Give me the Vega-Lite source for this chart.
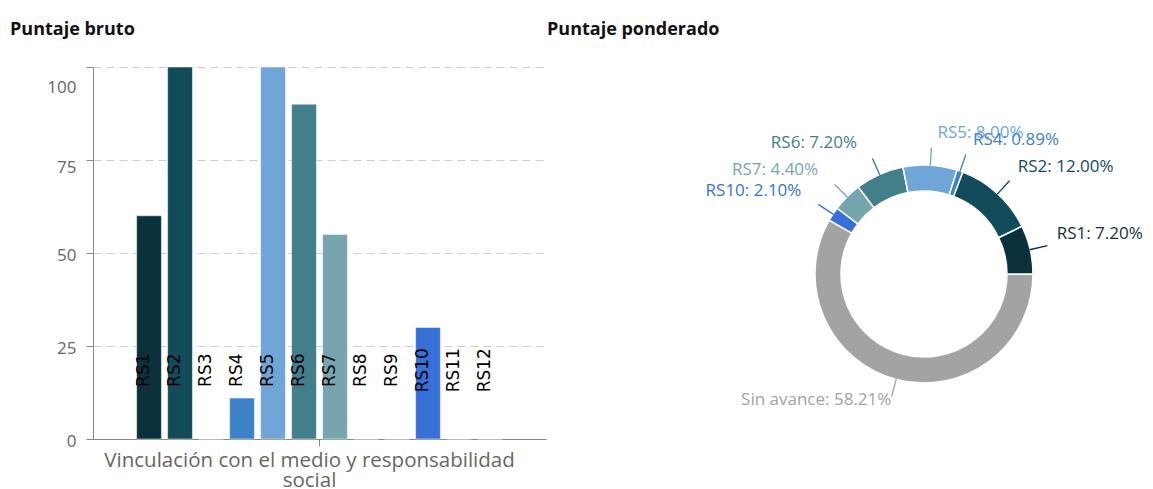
{
  "$schema": "https://vega.github.io/schema/vega-lite/v6.json",
  "padding": {"left": 10, "top": 20, "right": 0, "bottom": 0},
  "background": "white",
  "bounds": "flush",
  "spacing": 178,
  "config": {"view": {"stroke": null}, "font": "Open Sans"},
  "datasets": {
    "bruto": [
      {"criterio": "Vinculación con el medio y responsabilidad social", "rs": "RS1", "puntaje": 60},
      {"criterio": "Vinculación con el medio y responsabilidad social", "rs": "RS2", "puntaje": 100},
      {"criterio": "Vinculación con el medio y responsabilidad social", "rs": "RS3", "puntaje": 0},
      {"criterio": "Vinculación con el medio y responsabilidad social", "rs": "RS4", "puntaje": 11},
      {"criterio": "Vinculación con el medio y responsabilidad social", "rs": "RS5", "puntaje": 100},
      {"criterio": "Vinculación con el medio y responsabilidad social", "rs": "RS6", "puntaje": 90},
      {"criterio": "Vinculación con el medio y responsabilidad social", "rs": "RS7", "puntaje": 55},
      {"criterio": "Vinculación con el medio y responsabilidad social", "rs": "RS8", "puntaje": 0},
      {"criterio": "Vinculación con el medio y responsabilidad social", "rs": "RS9", "puntaje": 0},
      {"criterio": "Vinculación con el medio y responsabilidad social", "rs": "RS10", "puntaje": 30},
      {"criterio": "Vinculación con el medio y responsabilidad social", "rs": "RS11", "puntaje": 0},
      {"criterio": "Vinculación con el medio y responsabilidad social", "rs": "RS12", "puntaje": 0}
    ],
    "ponderado": [
      {"rs": "Sin avance", "pct": 58.21, "orden": 1},
      {"rs": "RS10", "pct": 2.10, "orden": 2},
      {"rs": "RS7", "pct": 4.40, "orden": 3},
      {"rs": "RS6", "pct": 7.20, "orden": 4},
      {"rs": "RS5", "pct": 8.00, "orden": 5},
      {"rs": "RS4", "pct": 0.89, "orden": 6},
      {"rs": "RS2", "pct": 12.00, "orden": 7},
      {"rs": "RS1", "pct": 7.20, "orden": 8}
    ]
  },
  "hconcat": [
    {
      "width": 453,
      "height": 372,
      "title": {"text": "Puntaje bruto", "anchor": "start", "frame": "group", "dx": -83, "offset": 28, "fontSize": 18, "fontWeight": "bold", "color": "#111111", "font": "Open Sans"},
      "data": {"name": "bruto"},
      "encoding": {
        "x": {
          "field": "criterio", "type": "nominal",
          "scale": {"paddingInner": 0, "paddingOuter": 0.109},
          "axis": {
            "title": null, "labelAngle": 0,
            "labelExpr": "[slice(datum.label, 0, 42), slice(datum.label, 43)]",
            "labelFontSize": 20.5, "labelColor": "#666666", "labelLimit": 700,
            "labelLineHeight": 20, "labelPadding": 4, "labelOffset": -10,
            "domainColor": "#888888", "tickColor": "#888888", "tickSize": 7, "grid": false
          }
        },
        "xOffset": {
          "field": "rs", "type": "nominal",
          "scale": {"domain": ["RS1","RS2","RS3","RS4","RS5","RS6","RS7","RS8","RS9","RS10","RS11","RS12"], "paddingInner": 0.2, "paddingOuter": 0.1}
        }
      },
      "layer": [
        {
          "mark": {"type": "bar", "stroke": "white", "strokeWidth": 0.5},
          "encoding": {
            "y": {
              "field": "puntaje", "type": "quantitative",
              "scale": {"domain": [0, 100]},
              "axis": {
                "title": null, "values": [0, 25, 50, 75, 100],
                "grid": true, "gridDash": [8, 5], "gridColor": "#cccccc",
                "domainColor": "#888888", "tickColor": "#888888", "tickSize": 7,
                "labelPadding": 10, "labelFontSize": 17, "labelColor": "#666666",
                "labelOffset": {"condition": [{"test": "datum.value == 100", "value": 20}, {"test": "datum.value == 75", "value": 7}], "value": 2}
              }
            },
            "color": {
              "field": "rs", "type": "nominal", "legend": null,
              "scale": {
                "domain": ["RS1","RS2","RS3","RS4","RS5","RS6","RS7","RS8","RS9","RS10","RS11","RS12","Sin avance"],
                "range": ["#0b323c","#124b5a","#5a8fa0","#3d82c6","#6fa6d7","#437e8b","#75a6ae","#8aa0a8","#5577aa","#3771d8","#6f8fa0","#4f6f80","#a3a3a3"]
              }
            }
          }
        },
        {
          "mark": {"type": "text", "angle": 270, "font": "DejaVu Sans", "fontSize": 17, "color": "black", "align": "center", "baseline": "middle", "dy": -5},
          "encoding": {
            "y": {"datum": 18.5, "type": "quantitative"},
            "text": {"field": "rs"}
          }
        }
      ]
    },
    {
      "width": 400,
      "height": 414,
      "title": {"text": "Puntaje ponderado", "anchor": "start", "frame": "group", "dx": -177, "offset": 28, "fontSize": 18, "fontWeight": "bold", "color": "#111111", "font": "Open Sans"},
      "data": {"name": "ponderado"},
      "transform": [
        {"window": [{"op": "sum", "field": "pct", "as": "fin"}], "sort": [{"field": "orden"}], "frame": [null, 0]},
        {"calculate": "datum.fin - datum.pct", "as": "inicio"},
        {"calculate": "(datum.inicio + datum.fin) / 2", "as": "medio"},
        {"calculate": "datum.medio + 0.02", "as": "medio2"},
        {"calculate": "datum.rs + ': ' + format(datum.pct, '.2f') + '%'", "as": "etiqueta"}
      ],
      "encoding": {
        "color": {"field": "rs", "type": "nominal", "legend": null}
      },
      "layer": [
        {
          "mark": {"type": "arc", "radius": 109, "radius2": 83, "stroke": "white", "strokeWidth": 1.5},
          "encoding": {
            "theta": {"field": "inicio", "type": "quantitative", "stack": null, "scale": {"domain": [0, 100], "range": [1.5708, 7.854]}},
            "theta2": {"field": "fin"}
          }
        },
        {
          "mark": {"type": "arc", "radius": 126, "radius2": 109, "filled": false, "strokeWidth": 1.2},
          "encoding": {
            "theta": {"field": "medio", "type": "quantitative", "stack": null},
            "theta2": {"field": "medio2"}
          }
        },
        {
          "transform": [{"filter": "datum.medio >= 75"}],
          "mark": {"type": "text", "radius": 130, "align": "left", "baseline": "middle", "dx": 6, "dy": -11, "fontSize": 17},
          "encoding": {
            "theta": {"field": "medio", "type": "quantitative", "stack": null},
            "text": {"field": "etiqueta"}
          }
        },
        {
          "transform": [{"filter": "datum.orden > 1 && datum.medio < 75"}],
          "mark": {"type": "text", "radius": 130, "align": "right", "baseline": "middle", "dx": -14, "dy": -12, "fontSize": 17},
          "encoding": {
            "theta": {"field": "medio", "type": "quantitative", "stack": null},
            "text": {"field": "etiqueta"}
          }
        },
        {
          "transform": [{"filter": "datum.orden == 1"}],
          "mark": {"type": "text", "radius": 128, "align": "right", "baseline": "middle", "dx": 0, "dy": 2, "fontSize": 17},
          "encoding": {
            "theta": {"field": "medio", "type": "quantitative", "stack": null},
            "text": {"field": "etiqueta"}
          }
        }
      ]
    }
  ]
}
